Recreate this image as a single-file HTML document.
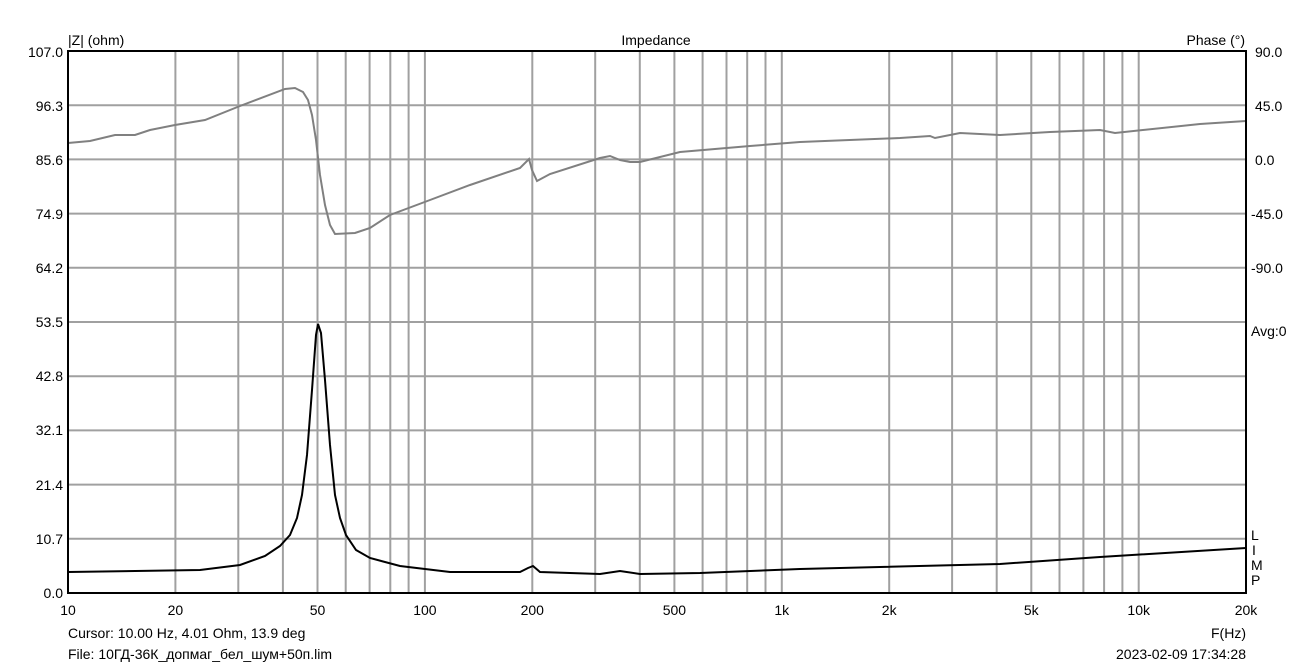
<!DOCTYPE html>
<html><head><meta charset="utf-8"><style>
body{margin:0;background:#fff;}
svg text{font-family:"Liberation Sans",sans-serif;font-size:14px;fill:#000;}
</style></head><body>
<svg width="1314" height="665" xmlns="http://www.w3.org/2000/svg">
<rect width="1314" height="665" fill="#fff"/>
<g stroke="#a0a0a0" stroke-width="2">
<line x1="175.4" y1="51" x2="175.4" y2="593"/><line x1="238.3" y1="51" x2="238.3" y2="593"/><line x1="282.9" y1="51" x2="282.9" y2="593"/><line x1="317.5" y1="51" x2="317.5" y2="593"/><line x1="345.7" y1="51" x2="345.7" y2="593"/><line x1="369.6" y1="51" x2="369.6" y2="593"/><line x1="390.3" y1="51" x2="390.3" y2="593"/><line x1="408.6" y1="51" x2="408.6" y2="593"/><line x1="424.9" y1="51" x2="424.9" y2="593"/>
<line x1="532.3" y1="51" x2="532.3" y2="593"/><line x1="595.2" y1="51" x2="595.2" y2="593"/><line x1="639.8" y1="51" x2="639.8" y2="593"/><line x1="674.4" y1="51" x2="674.4" y2="593"/><line x1="702.6" y1="51" x2="702.6" y2="593"/><line x1="726.5" y1="51" x2="726.5" y2="593"/><line x1="747.2" y1="51" x2="747.2" y2="593"/><line x1="765.5" y1="51" x2="765.5" y2="593"/><line x1="781.8" y1="51" x2="781.8" y2="593"/>
<line x1="889.2" y1="51" x2="889.2" y2="593"/><line x1="952.1" y1="51" x2="952.1" y2="593"/><line x1="996.7" y1="51" x2="996.7" y2="593"/><line x1="1031.3" y1="51" x2="1031.3" y2="593"/><line x1="1059.5" y1="51" x2="1059.5" y2="593"/><line x1="1083.4" y1="51" x2="1083.4" y2="593"/><line x1="1104.1" y1="51" x2="1104.1" y2="593"/><line x1="1122.4" y1="51" x2="1122.4" y2="593"/><line x1="1138.7" y1="51" x2="1138.7" y2="593"/>
<line x1="68" y1="105.2" x2="1246" y2="105.2"/><line x1="68" y1="159.4" x2="1246" y2="159.4"/><line x1="68" y1="213.6" x2="1246" y2="213.6"/><line x1="68" y1="267.8" x2="1246" y2="267.8"/><line x1="68" y1="322" x2="1246" y2="322"/><line x1="68" y1="376.2" x2="1246" y2="376.2"/><line x1="68" y1="430.4" x2="1246" y2="430.4"/><line x1="68" y1="484.6" x2="1246" y2="484.6"/><line x1="68" y1="538.8" x2="1246" y2="538.8"/>
</g>
<polyline fill="none" stroke="#808080" stroke-width="2" points="68,143 90,141 115,135 135,135 150,130 175,125 205,120 240,106 285,89 295,88 303,92 308,100 312,115 316,140 320,175 325,205 330,225 335,234 355,233 370,228 390,215 430,200 470,185 520,168 529,159 532,170 537,181 550,174 600,158 610,156 620,160 630,162 640,162 680,152 750,146 800,142 900,138 930,136 935,138 960,133 1000,135 1050,132 1100,130 1115,133 1200,124 1246,121"/>
<polyline fill="none" stroke="#000" stroke-width="2" points="68,572 200,570 240,565 265,556 280,546 290,535 297,518 302,495 307,455 312,390 316,335 318,324 321,333 325,380 330,445 335,495 340,518 346,535 356,550 370,558 400,566 450,572 520,572 528,568 533,566 540,572 600,574 620,571 640,574 700,573 800,569 1000,564 1100,557 1246,548"/>
<rect x="68" y="51" width="1178" height="542" fill="none" stroke="#000" stroke-width="2"/>
<g text-anchor="end">
<text x="63" y="57">107.0</text><text x="63" y="111">96.3</text><text x="63" y="165">85.6</text><text x="63" y="219">74.9</text><text x="63" y="273">64.2</text><text x="63" y="327">53.5</text><text x="63" y="381">42.8</text><text x="63" y="435">32.1</text><text x="63" y="490">21.4</text><text x="63" y="544">10.7</text><text x="63" y="598">0.0</text>
<text x="1245" y="45">Phase (°)</text>
</g>
<g text-anchor="start">
<text x="1255" y="57">90.0</text><text x="1255" y="111">45.0</text><text x="1255" y="165">0.0</text><text x="1251" y="219">-45.0</text><text x="1251" y="273">-90.0</text><text x="1251" y="336">Avg:0</text>
<text x="1251" y="540">L</text><text x="1252" y="555">I</text><text x="1251" y="570">M</text><text x="1251" y="585">P</text>
<text x="68" y="45">|Z| (ohm)</text>
<text x="68" y="638">Cursor: 10.00 Hz, 4.01 Ohm, 13.9 deg</text>
<text x="68" y="659">File: 10ГД-36К_допмаг_бел_шум+50п.lim</text>
</g>
<text x="656" y="45" text-anchor="middle">Impedance</text>
<g text-anchor="middle">
<text x="68" y="615">10</text><text x="175.4" y="615">20</text><text x="317.5" y="615">50</text><text x="424.9" y="615">100</text><text x="532.3" y="615">200</text><text x="674.4" y="615">500</text><text x="781.8" y="615">1k</text><text x="889.2" y="615">2k</text><text x="1031.3" y="615">5k</text><text x="1138.7" y="615">10k</text><text x="1246" y="615">20k</text>
</g>
<text x="1246" y="638" text-anchor="end">F(Hz)</text>
<text x="1246" y="659" text-anchor="end">2023-02-09 17:34:28</text>
</svg>
</body></html>
